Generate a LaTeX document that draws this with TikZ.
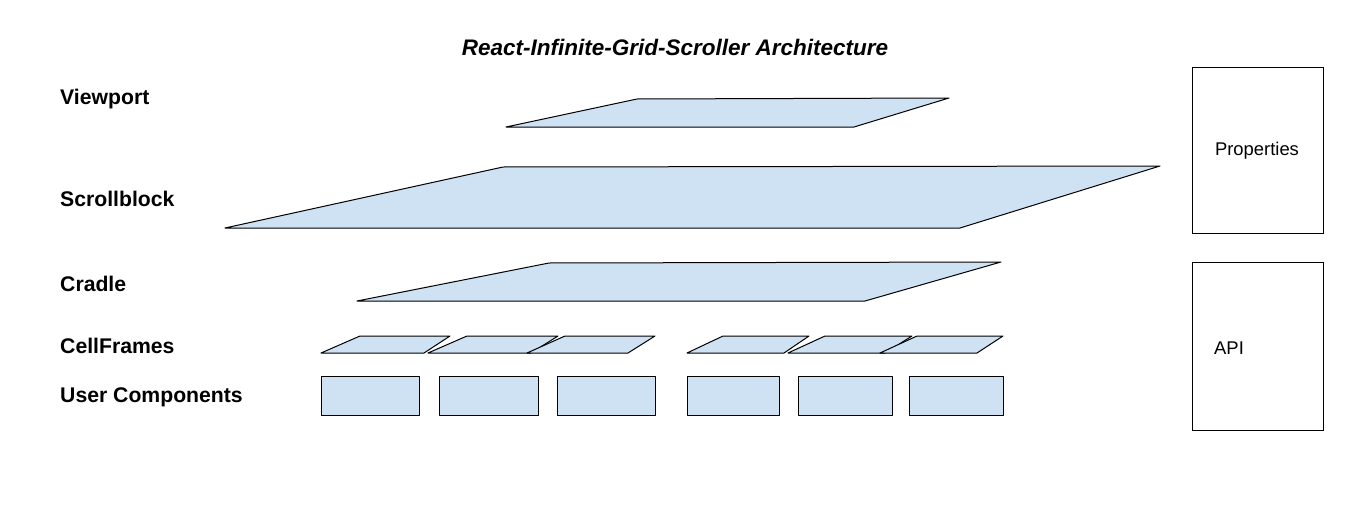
\documentclass[tikz,border=0pt]{standalone}
\usepackage{fontspec}
\setmainfont{Liberation Sans}
\usepackage{tikz}

\tikzset{
    layer/.style={draw=black, fill=layerblue, line width=1pt, line join=round},
    lbl/.style={anchor=west, inner sep=0pt, font=\fontsize{21.2}{25}\selectfont\bfseries},
    sidebox/.style={draw=black, line width=1pt, minimum width=131pt, inner sep=0pt}
}
\definecolor{layerblue}{HTML}{CFE2F3}

\begin{document}
\begin{tikzpicture}[x=1pt, y=-1pt]
        \useasboundingbox (0, 0) rectangle (1350, 514);

        % title
        \node[inner sep=0pt, font=\fontsize{22.5}{26}\selectfont\bfseries\itshape] (title)
            at (675, 47) {React-Infinite-Grid-Scroller Architecture};

        % layer names
        \node[lbl] (viewportlbl) at (60, 99) {Viewport};
        \node[lbl] (scrollblocklbl) at (60, 199) {Scrollblock};
        \node[lbl] (cradlelbl) at (60, 284) {Cradle};
        \node[lbl] (cellframeslbl) at (60, 346) {CellFrames};
        \node[lbl] (componentslbl) at (60, 397) {User Components};

        % layers
        \draw[layer] (506, 127) -- (637, 99) -- (949, 98) -- (854, 127) -- cycle;
        \draw[layer] (225, 228) -- (503, 167) -- (1160, 166) -- (960, 228) -- cycle;
        \draw[layer] (357, 301) -- (549, 263) -- (1001, 262) -- (865, 301) -- cycle;

        \foreach \bl/\tl/\tr/\br in {321/360/450/424, 428/467/558/531, 527/565/655/628,
                                     687/723/809/784, 788/825/912/885, 880/917/1003/977}
            \draw[layer] (\bl, 353) -- (\tl, 336) -- (\tr, 336) -- (\br, 353) -- cycle;
        ;

        \foreach \l/\r in {321/419, 439/538, 557/655, 687/779, 798/892, 909/1003}
            \draw[layer] (\l, 376) rectangle (\r, 415);
        ;

        % side boxes
        \node[sidebox, minimum height=166pt] (props) at (1257.5, 150) {};
        \node[font=\fontsize{18.4}{22}\selectfont] (propstext) at (1257, 151) {Properties};
        \node[sidebox, minimum height=168pt] (api) at (1257.5, 346) {};
        \node[font=\fontsize{18.4}{22}\selectfont, anchor=west, inner sep=0pt] (apitext)
            at (1214, 348) {API};
    \end{tikzpicture}
\end{document}
